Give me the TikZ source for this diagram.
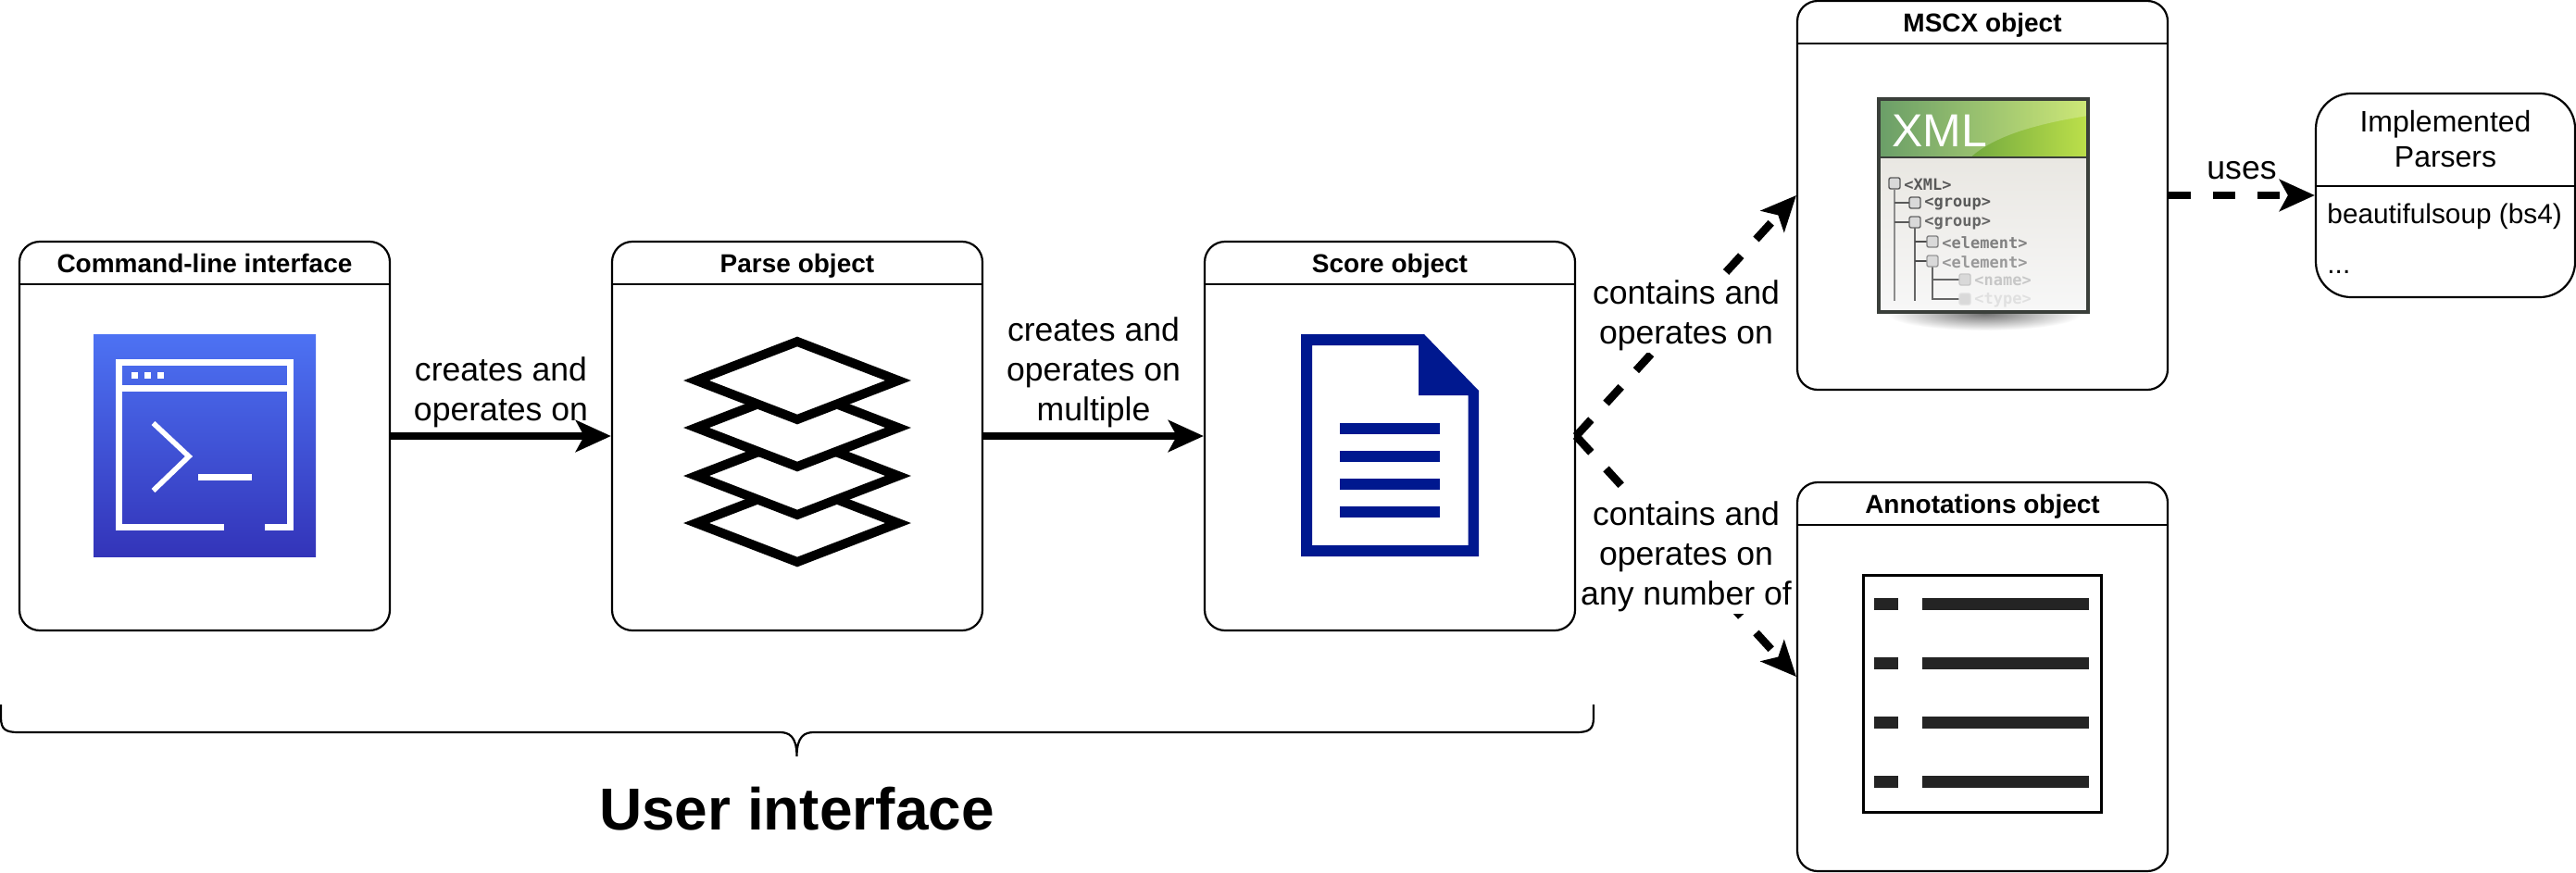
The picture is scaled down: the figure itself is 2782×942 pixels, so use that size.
\documentclass[tikz,border=0pt]{standalone}
\usepackage{fontspec}
\setmainfont{Liberation Sans}
\setmonofont{DejaVu Sans Mono}
\usepackage{tikz}
\usetikzlibrary{positioning, arrows.meta}
\definecolor{cliTop}{HTML}{4D72F3}
\definecolor{cliBottom}{HTML}{3334B9}
\definecolor{scoreBlue}{HTML}{00188F}
\definecolor{barGray}{HTML}{242424}
\definecolor{xmlDark}{HTML}{3A7F36}
\definecolor{xmlMid}{HTML}{52B02E}
\definecolor{xmlLight}{HTML}{BDE04A}
\definecolor{xmlFrame}{HTML}{3A3F3A}
\definecolor{xmlPage}{HTML}{E9E7E2}
\tikzstyle{objectbox} = [rectangle, rounded corners=11pt, minimum width=200pt, minimum height=210pt, inner sep=0pt, line width=1.1pt, draw=black, fill=white]
\tikzstyle{objecthead} = [minimum height=23pt, inner sep=0pt, text height=12pt, text depth=0.5pt, font=\fontsize{14}{17}\selectfont\bfseries]
\tikzstyle{parserbox} = [rectangle, rounded corners=19pt, minimum width=140pt, minimum height=110pt, inner sep=0pt, line width=1.1pt, draw=black, fill=white]
\tikzstyle{parserhead} = [minimum height=50pt, inner sep=0pt, text width=140pt, align=center, font=\fontsize{16}{19}\selectfont]
\tikzstyle{parseritem} = [inner sep=0pt, anchor=base west, font=\fontsize{14.9}{18}\selectfont]
\tikzstyle{headrule} = [line width=1.1pt]
\tikzstyle{arrow} = [line width=4.3pt,-{Stealth[length=19pt,width=17pt,inset=4.5pt]}]
\tikzstyle{dasharrow} = [arrow, dash pattern=on 12pt off 12pt]
\tikzstyle{edgetext} = [align=center, inner sep=1pt, font=\fontsize{17.8}{21.5}\selectfont]
\tikzstyle{layer} = [line width=5pt, miter limit=10, fill=white]
\tikzstyle{xmlrow} = [anchor=west, inner sep=0pt, yshift=-0.8pt, font=\fontsize{8.5}{10}\selectfont\ttfamily\bfseries]
\begin{document}
\begin{tikzpicture}[x=0.5pt, y=-0.5pt, node distance=320pt]
        \useasboundingbox (0,0) rectangle (2782,942);

        \node (cli) [objectbox] at (221,471) {};
        \node (parse) [objectbox, right of=cli] {};
        \node (score) [objectbox, right of=parse] {};
        \node (mscx) [objectbox, right of=score, yshift=130pt] {};
        \node (annot) [objectbox, right of=score, yshift=-130pt] {};
        \node (parsers) [parserbox, right of=mscx, xshift=-70pt] {};

        \node (cliHead) [objecthead, below=0pt of cli.north] {Command-line interface};
        \node (parseHead) [objecthead, below=0pt of parse.north] {Parse object};
        \node (scoreHead) [objecthead, below=0pt of score.north] {Score object};
        \node (mscxHead) [objecthead, below=0pt of mscx.north] {MSCX object};
        \node (annotHead) [objecthead, below=0pt of annot.north] {Annotations object};
        \node (parsersHead) [parserhead, below=0pt of parsers.north] {\raisebox{-1.8pt}{Implemented}\\\raisebox{-1.8pt}{Parsers}};
        \node (bsItem) [parseritem] at (2513,241) {beautifulsoup (bs4)};
        \node (dotsItem) [parseritem] at (2513,295) {...};

        \foreach \boxname in {cli, parse, score, mscx, annot, parsers}
            \draw [headrule] (\boxname Head.south -| \boxname.west) -- (\boxname Head.south -| \boxname.east);

        \shade [top color=cliTop, bottom color=cliBottom] (101,361) rectangle (341,601);
        \draw [white, line width=3.5pt] (242,569.5) -| (128.5,391.5) -| (313.5,569.5) -- (286,569.5);
        \draw [white, line width=3.5pt] (128.5,419.5) -- (313.5,419.5);
        \foreach \dotx in {142,156,170}
            \fill [white] (\dotx,402) rectangle +(7,7);
        \draw [white, line width=2.8pt] (165.5,457) -- (204,493) -- (165.5,530);
        \fill [white] (214,512) rectangle (272,519);

        \foreach \layery in {565,514,462,411}
            \draw [layer] (861,\layery-42) -- (970,\layery) -- (861,\layery+42) -- (752,\layery) -- cycle;

        \fill [scoreBlue, even odd rule] (1405,361) -- (1538,361) -- (1597,422) -- (1597,601) -- (1405,601) -- cycle
            (1417,373) -- (1532,373) -- (1532,427) -- (1585.5,427) -- (1585.5,589) -- (1417,589) -- cycle;
        \foreach \liney in {457,487,517,547}
            \fill [scoreBlue] (1447,\liney) rectangle (1555,\liney+12);

        \shade [inner color=black!55, outer color=white] (2143,339) ellipse (105 and 18);
        \shade [left color=xmlDark, middle color=xmlMid, right color=xmlLight] (2030,108) rectangle (2255,170);
        \fill [white, opacity=0.25] (2030,108) -- (2255,108) -- (2255,125) .. controls (2190,135) and (2150,150) .. (2128,170) -- (2030,170) -- cycle;
        \shade [top color=xmlPage, bottom color=black!3] (2030,170) rectangle (2255,337);
        \draw [xmlFrame, line width=2pt] (2029,107) rectangle (2255,337);
        \draw [xmlFrame, line width=1pt] (2029,170) -- (2255,170);
        \node (xmlTitle) [white, inner sep=0pt, anchor=base west, font=\fontsize{25}{28}\selectfont] at (2043,158) {XML};

        \draw [black!45, line width=0.7pt] (2046,205) -- (2046,325);
        \draw [black!65, line width=0.8pt] (2046,219) -- (2062,219) (2046,240) -- (2062,240);
        \draw [black!60, line width=0.8pt] (2068,246) -- (2068,325);
        \draw [black!70, line width=0.8pt] (2068,261) -- (2082,261) (2068,282) -- (2082,282);
        \draw [black!60, line width=0.8pt] (2087,288) -- (2087,323) -- (2116,323) (2087,302) -- (2116,302);
        \foreach \rowbox/\rowx/\rowy/\rowtext/\rowfade in {
            a/2046/198/<XML>/65,
            b/2068/219/<group>/65,
            c/2068/240/<group>/60,
            d/2087/261/<element>/50,
            e/2087/282/<element>/40,
            f/2122/302/<name>/22,
            g/2122/323/<type>/12}{
            \draw [black!\rowfade, fill=black!15, line width=0.7pt, rounded corners=1pt] (\rowx-6,\rowy-6) rectangle (\rowx+6,\rowy+6);
            \node (row\rowbox) [xmlrow, text=black!\rowfade] at (\rowx+10,\rowy) {\rowtext};
        }

        \draw [black, line width=1.5pt] (2012.5,621) rectangle (2269,877);
        \foreach \bary in {652,716,780,844} {
            \fill [barGray] (2024,\bary-6.5) rectangle (2050,\bary+6.5);
            \fill [barGray] (2075.5,\bary-6.5) rectangle (2256,\bary+6.5);
        }

        \draw [arrow] (cli) -- (parse);
        \draw [arrow] (parse) -- (score);
        \draw [dasharrow] (score.east) -- node[edgetext, fill=white, midway] {contains and\\operates on} (mscx.west);
        \draw [dasharrow] (score.east) -- node[edgetext, fill=white, midway] {contains and\\operates on\\any number of} (annot.west);
        \draw [dasharrow] (mscx.east) -- (mscx.east -| parsers.west);

        \node (cliText) [edgetext] at (541,424) {creates and\\operates on};
        \node (parseText) [edgetext] at (1181,402) {creates and\\operates on\\multiple};
        \node (usesText) [edgetext] at (2421,184) {uses};

        \draw [line width=1.1pt] (1,761) -- (1,775) .. controls (1,788) and (6,791) .. (20,791) -- (842,791) .. controls (852,791) and (860.5,795) .. (860.5,817) .. controls (860.5,795) and (869,791) .. (879,791) -- (1702,791) .. controls (1716,791) and (1721,788) .. (1721,775) -- (1721,761);
        \node (userText) [inner sep=0pt, anchor=base, font=\fontsize{32}{38}\selectfont\bfseries] at (860.5,896) {User interface};
\end{tikzpicture}
\end{document}
